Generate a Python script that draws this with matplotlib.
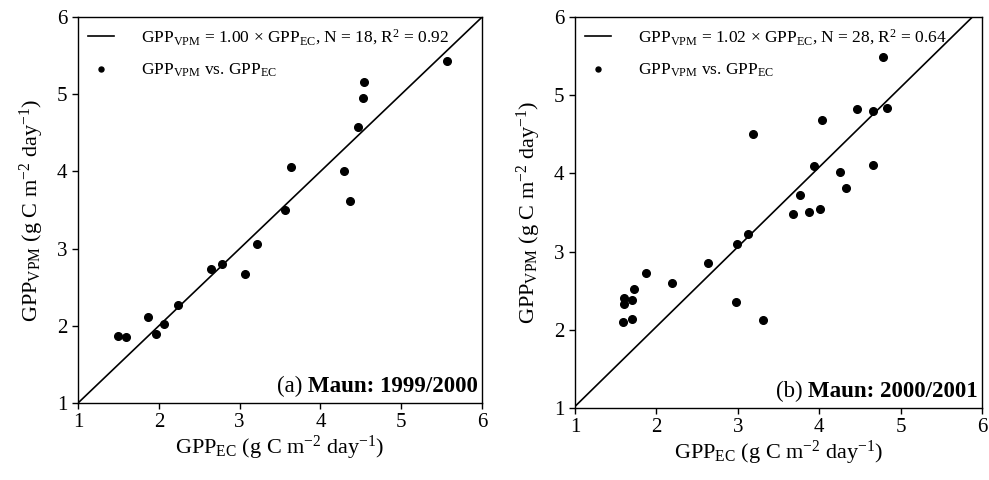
import matplotlib.pyplot as plt
import numpy as np

plt.rcParams['font.family'] = ['Liberation Serif', 'DejaVu Serif']
plt.rcParams['mathtext.fontset'] = 'custom'
plt.rcParams['mathtext.rm'] = 'Liberation Serif'
plt.rcParams['mathtext.it'] = 'Liberation Serif:italic'
plt.rcParams['mathtext.bf'] = 'Liberation Serif:bold'

# panel (a) Maun 1999/2000
ec_a = [1.50, 1.59, 1.87, 1.97, 2.06, 2.24, 2.65, 2.78, 3.07, 3.22, 3.56, 3.64,
        4.29, 4.37, 4.46, 4.53, 4.54, 5.57]
vpm_a = [1.865, 1.857, 2.11, 1.90, 2.03, 2.276, 2.74, 2.795, 2.665, 3.055, 3.50, 4.06,
         4.006, 3.62, 4.58, 4.95, 5.165, 5.425]
slope_a = 1.00

# panel (b) Maun 2000/2001
ec_b = [1.585, 1.60, 1.60, 1.70, 1.70, 1.72, 1.87, 2.19, 2.63, 2.98, 2.99, 3.13,
        3.19, 3.31, 3.68, 3.76, 3.88, 3.94, 4.01, 4.04, 4.25, 4.33, 4.46, 4.66,
        4.66, 4.78, 4.83]
vpm_b = [2.10, 2.336, 2.41, 2.136, 2.38, 2.52, 2.73, 2.596, 2.85, 2.35, 3.10, 3.23,
         4.50, 2.13, 3.48, 3.72, 3.50, 4.09, 3.54, 4.68, 4.02, 3.81, 4.82, 4.80,
         4.11, 5.485, 4.83]
slope_b = 1.02

ticks = [1, 2, 3, 4, 5, 6]

fig = plt.figure(figsize=(9.89, 4.8), dpi=100)
ax1 = fig.add_axes([0.0789, 0.1604, 0.4085, 0.804])
ax2 = fig.add_axes([0.5814, 0.150, 0.4115, 0.8146])

panels = [(ax1, ec_a, vpm_a, slope_a, '1.00', 18, '0.92', '(a) ', 'Maun: 1999/2000'),
          (ax2, ec_b, vpm_b, slope_b, '1.02', 28, '0.64', '(b) ', 'Maun: 2000/2001')]

for ax, x, y, k, ks, n, r2, tag, site in panels:
    xx = np.array([1.0, 6.0])
    ax.plot(xx, k * xx, color='k', lw=1.2,
            label=r'GPP$_{\rm VPM}$ = ' + ks + r' $\times$ GPP$_{\rm EC}$, N = %d, R$^2$ = %s' % (n, r2))
    ax.plot(x, y, 'o', color='k', ms=5.5, ls='none',
            label=r'GPP$_{\rm VPM}$ vs. GPP$_{\rm EC}$')
    ax.set_xlim(1, 6)
    ax.set_ylim(1, 6)
    ax.set_xticks(ticks)
    ax.set_yticks(ticks)
    ax.tick_params(direction='out', length=4, labelsize=15, width=1)
    for s in ax.spines.values():
        s.set_linewidth(1)
    ax.set_xlabel(r'GPP$_{\rm EC}$ (g C m$^{-2}$ day$^{-1}$)', fontsize=16, labelpad=1)
    ax.set_ylabel(r'GPP$_{\rm VPM}$ (g C m$^{-2}$ day$^{-1}$)', fontsize=16, labelpad=8)
    ax.legend(loc='upper left', frameon=False, fontsize=12.5, handlelength=1.5,
              handletextpad=1.5, borderaxespad=0.05, labelspacing=0.85, markerscale=0.65,
              borderpad=0.55)
    t = ax.text(0.99, 0.015, site, transform=ax.transAxes, fontweight='bold',
                ha='right', va='bottom', fontsize=16.5)
    ax.annotate(tag, xy=(0, 0), xycoords=t, ha='right', va='bottom', fontsize=16.5)

fig.savefig('out.png', dpi=100)
